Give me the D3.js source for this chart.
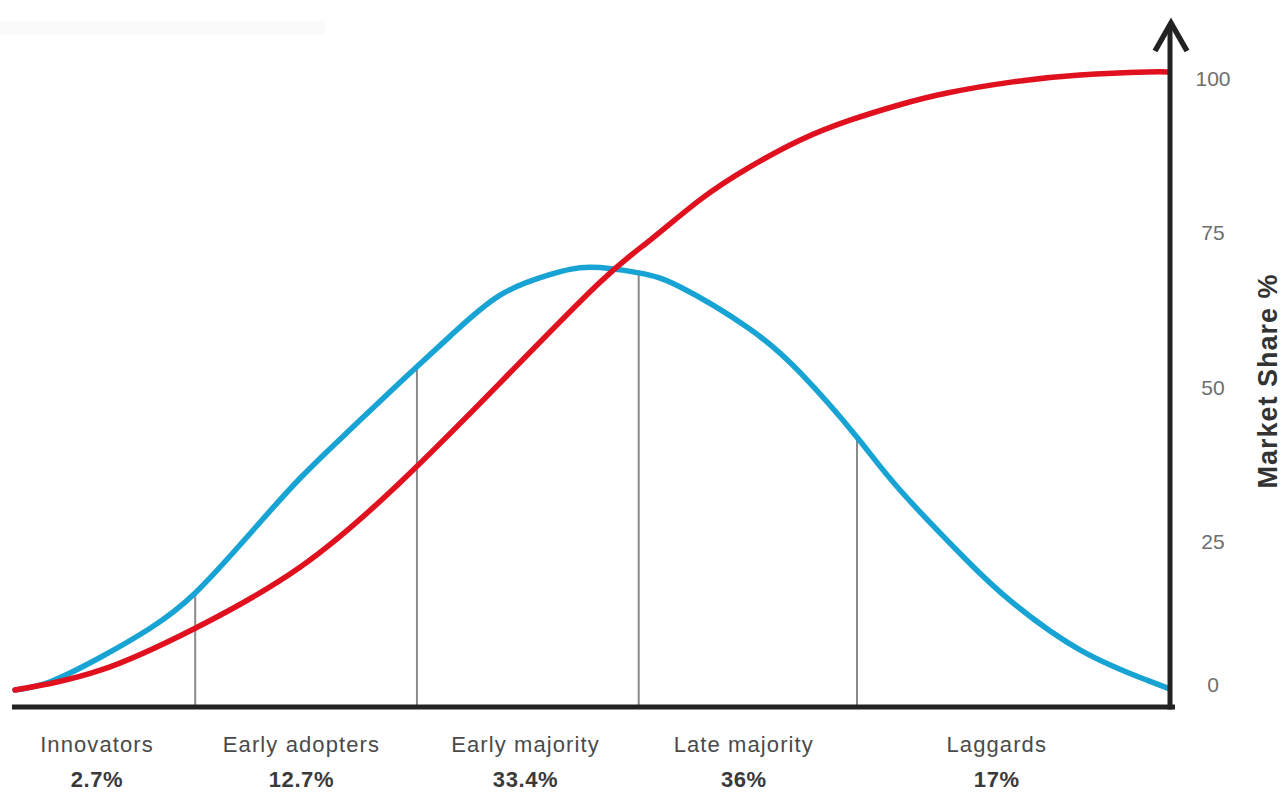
<!DOCTYPE html>
<html>
<head>
<meta charset="utf-8">
<script src="https://cdn.jsdelivr.net/npm/d3@7"></script>
<style>
  html, body { margin: 0; padding: 0; background: #fff; }
  svg { display: block; }
  text { font-family: "Liberation Sans", Arial, sans-serif; }
</style>
</head>
<body>
<svg id="chart" width="1284" height="792"></svg>
<script>
// ---- data (x in time units 0..100, y in Market Share %) ----
const adoptionT = [0, 3.0, 7.4, 11.7, 15.6, 20.3, 24.7, 29.0, 33.3, 37.7, 42.0, 46.3, 49.8, 54.0, 57.6, 63.4, 68.0, 72.9, 76.6, 82.4, 86.4, 92.2, 98.0, 99.8];
const adoptionV = [0, 1.3, 5.3, 10.0, 15.7, 25.2, 34.3, 42.1, 49.7, 57.3, 63.9, 67.2, 68.4, 67.5, 65.2, 58.7, 51.3, 40.9, 32.4, 21.0, 14.1, 6.5, 1.6, 0.3];

const shareT = [0, 7.4, 15.6, 24.7, 33.3, 42.0, 50.6, 55.0, 59.3, 63.6, 68.0, 72.3, 76.6, 80.7, 86.4, 92.2, 98.0, 99.8];
const shareV = [0, 3.2, 10.0, 19.9, 33.5, 49.7, 65.9, 72.8, 79.3, 84.6, 89.0, 92.2, 94.7, 96.6, 98.4, 99.5, 100, 100];

const categories = ["Innovators", "Early adopters", "Early majority", "Late majority", "Laggards"];
const categoryShares = ["2.7%", "12.7%", "33.4%", "36%", "17%"];
const categoryLabelT = [7.1, 24.8, 44.2, 63.1, 85.0];
const boundaries = [15.6, 34.8, 54.0, 72.9];

const yTicks = [0, 25, 50, 75, 100];
const yTitle = "Market Share %";

// ---- layout ----
const svg = d3.select("#chart");
const x = d3.scaleLinear().domain([0, 100]).range([15, 1170]);
const y = d3.scaleLinear().domain([0, 100]).range([690, 72]);
const baseY = y(0) + 17;
const axisX = x(100);

// faint artifact band at top-left
svg.append("rect").attr("x", 0).attr("y", 21).attr("width", 325).attr("height", 13)
  .attr("fill", "#fafafa");

const line = d3.line().x(d => x(d[0])).y(d => y(d[1])).curve(d3.curveNatural);
const blueData = adoptionT.map((t, i) => [t, adoptionV[i]]);
const redData = shareT.map((t, i) => [t, shareV[i]]);

const bluePath = svg.append("path").datum(blueData).attr("d", line)
  .attr("fill", "none").attr("stroke", "#17a3d3").attr("stroke-width", 5.5)
  .attr("stroke-linecap", "round");

// divider lines from baseline up to blue curve
function blueYAt(px) {
  const node = bluePath.node();
  const L = node.getTotalLength();
  let lo = 0, hi = L;
  for (let k = 0; k < 40; k++) {
    const mid = (lo + hi) / 2;
    if (node.getPointAtLength(mid).x < px) lo = mid; else hi = mid;
  }
  return node.getPointAtLength(lo).y;
}
svg.insert("g", "path").selectAll("line").data(boundaries).join("line")
  .attr("x1", d => x(d)).attr("x2", d => x(d))
  .attr("y1", baseY).attr("y2", d => blueYAt(x(d)))
  .attr("stroke", "#8a8a8a").attr("stroke-width", 2);

// red cumulative curve
svg.append("path").datum(redData).attr("d", line)
  .attr("fill", "none").attr("stroke", "#e0101e").attr("stroke-width", 5.5)
  .attr("stroke-linecap", "round");

// x baseline
svg.append("line").attr("x1", 12).attr("x2", axisX + 5)
  .attr("y1", baseY).attr("y2", baseY)
  .attr("stroke", "#222").attr("stroke-width", 5);

// y axis with arrow
svg.append("line").attr("x1", axisX).attr("x2", axisX)
  .attr("y1", baseY + 2.5).attr("y2", 24)
  .attr("stroke", "#222").attr("stroke-width", 5);
svg.append("path")
  .attr("d", `M${axisX - 15},${51} L${axisX + 1},${23} L${axisX + 17},${51}`)
  .attr("fill", "none").attr("stroke", "#222").attr("stroke-width", 5.5)
  .attr("stroke-linejoin", "miter").attr("stroke-linecap", "butt");

// y tick labels
svg.append("g").selectAll("text").data(yTicks).join("text")
  .attr("x", axisX + 43)
  .attr("y", d => Math.min(y(d) + 8, y(0) - 4))
  .attr("text-anchor", "middle").attr("dominant-baseline", "middle")
  .attr("font-size", 21).attr("fill", "#6e6e6e")
  .text(d => d);

// y title
svg.append("text")
  .attr("transform", `translate(${1270},${381}) rotate(-90)`)
  .attr("text-anchor", "middle").attr("dominant-baseline", "middle")
  .attr("font-size", 27).attr("font-weight", "bold").attr("fill", "#333")
  .attr("letter-spacing", 1)
  .text(yTitle);

// category labels
const cat = svg.append("g");
cat.selectAll("text.name").data(categories).join("text").attr("class", "name")
  .attr("x", (d, i) => x(categoryLabelT[i])).attr("y", 752)
  .attr("text-anchor", "middle").attr("font-size", 22).attr("fill", "#4a4a4a")
  .attr("letter-spacing", 1.1)
  .text(d => d);
cat.selectAll("text.share").data(categoryShares).join("text").attr("class", "share")
  .attr("x", (d, i) => x(categoryLabelT[i])).attr("y", 787)
  .attr("text-anchor", "middle").attr("font-size", 22).attr("font-weight", "bold")
  .attr("fill", "#3a3a3a").attr("letter-spacing", 0.6)
  .text(d => d);
</script>
</body>
</html>
